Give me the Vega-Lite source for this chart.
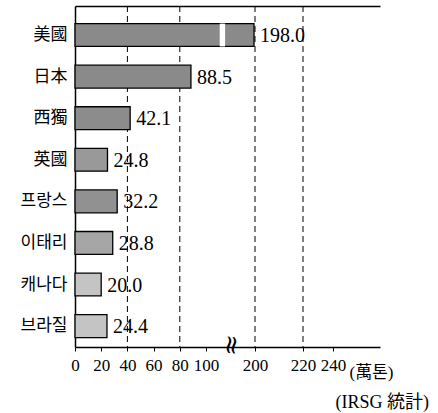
{
  "$schema": "https://vega.github.io/schema/vega-lite/v6.json",
  "autosize": {"type": "none"},
  "width": 305,
  "height": 341,
  "padding": {"left": 75, "top": 6, "right": 58, "bottom": 66},
  "background": "white",
  "title": {"text": "(IRSG 統計)", "orient": "bottom", "anchor": "end", "align": "right", "dx": 36, "offset": 14, "font": "Liberation Serif, Noto Sans CJK KR", "fontSize": 18, "fontWeight": "normal", "color": "black"},
  "data": {"values": [
    {"country": "美國", "value": 198.0},
    {"country": "日本", "value": 88.5},
    {"country": "西獨", "value": 42.1},
    {"country": "英國", "value": 24.8},
    {"country": "프랑스", "value": 32.2},
    {"country": "이태리", "value": 28.8},
    {"country": "캐나다", "value": 20.0},
    {"country": "브라질", "value": 24.4}
  ]},
  "layer": [
    {
      "data": {"values": [{"g": 40}, {"g": 80}, {"g": 200}, {"g": 220}]},
      "mark": {"type": "rule", "color": "black", "strokeWidth": 1, "strokeDash": [6, 4]},
      "encoding": {
        "x": {"field": "g", "type": "quantitative", "axis": {"orient": "top", "labels": false, "ticks": false, "grid": false, "domain": true, "domainColor": "black", "domainWidth": 1.5, "title": null}}
      }
    },
    {
      "mark": {"type": "bar", "stroke": "black", "strokeWidth": 1.3},
      "encoding": {
        "y": {"field": "country", "type": "nominal", "sort": null, "title": null,
          "scale": {"domain": ["美國", "日本", "西獨", "英國", "프랑스", "이태리", "캐나다", "브라질"], "paddingInner": 0.45, "paddingOuter": 0.325, "align": 0.65},
          "axis": {"ticks": false, "domain": true, "domainColor": "black", "domainWidth": 1.5, "labelPadding": 8, "labelFont": "Noto Sans CJK KR", "labelFontSize": 17, "labelColor": "black"}},
        "x": {"field": "value", "type": "quantitative",
          "scale": {"domain": [0, 100, 200, 220, 240, 258], "range": [0, 131, 180, 228, 258, 305], "clamp": true, "nice": false, "zero": false},
          "axis": {"orient": "bottom", "values": [0, 20, 40, 60, 80, 100, 200, 220, 240], "grid": false, "tickColor": "black", "tickSize": 4, "domainColor": "black", "domainWidth": 1.5, "labelFont": "Liberation Serif", "labelFontSize": 17, "labelColor": "black", "labelPadding": 6, "labelOverlap": false, "labelFlush": false,
            "title": "(萬톤)", "titleFont": "Liberation Serif, Noto Sans CJK KR", "titleFontSize": 17, "titleFontWeight": "normal", "titleColor": "black", "titleX": 274, "titleY": 30, "titleAlign": "left", "titleBaseline": "alphabetic", "titleAnchor": null}},
        "color": {"field": "country", "type": "nominal", "legend": null,
          "scale": {"domain": ["美國", "日本", "西獨", "英國", "프랑스", "이태리", "캐나다", "브라질"], "range": ["#8a8a8a", "#8a8a8a", "#8c8c8c", "#999999", "#919191", "#a6a6a6", "#c4c4c4", "#c4c4c4"]}}
      }
    },
    {
      "data": {"values": [{"country": "美國", "a": 128, "b": 139}]},
      "mark": {"type": "bar", "fill": "white", "stroke": null},
      "encoding": {
        "y": {"field": "country", "type": "nominal", "sort": null},
        "x": {"field": "a", "type": "quantitative", "axis": null},
        "x2": {"field": "b"}
      }
    },
    {
      "mark": {"type": "text", "align": "left", "baseline": "middle", "dx": 6, "dy": 1, "font": "Liberation Serif", "fontSize": 20, "color": "black"},
      "encoding": {
        "y": {"field": "country", "type": "nominal", "sort": null},
        "x": {"field": "value", "type": "quantitative", "axis": null},
        "text": {"field": "value", "type": "quantitative", "format": ".1f"}
      }
    },
    {
      "data": {"values": [{"country": "브라질", "v": 155, "s": "≈"}]},
      "mark": {"type": "text", "angle": 95, "align": "center", "baseline": "middle", "dx": 19, "dy": 0, "fontSize": 26, "font": "DejaVu Serif", "color": "black"},
      "encoding": {
        "y": {"field": "country", "type": "nominal", "sort": null},
        "x": {"field": "v", "type": "quantitative", "axis": null},
        "text": {"field": "s"}
      }
    }
  ],
  "resolve": {"axis": {"x": "independent"}},
  "config": {"view": {"stroke": null}}
}
